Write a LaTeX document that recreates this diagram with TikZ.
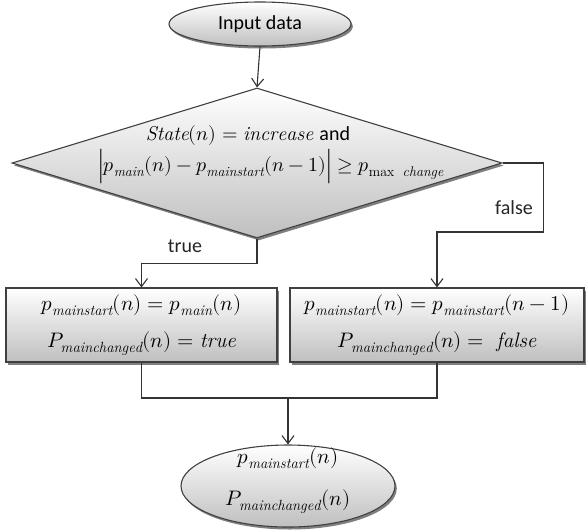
\documentclass[tikz,border=0pt]{standalone}
\usepackage{fontspec}
\usepackage{unicode-math}
\setmathfont{Latin Modern Math}
\newfontfamily\labelfont{Carlito}
\usetikzlibrary{shapes.geometric,shadows,arrows.meta}
\begin{document}
\begin{tikzpicture}[x=1pt,y=-1pt,
  line/.style={draw=black!80, line width=1.1pt},
  arr/.style={line, -{Straight Barb[length=8pt,width=12pt,line width=1.1pt]}},
  shaded/.style={draw=black!75, line width=1.1pt, top color=white, bottom color=black!25,
    drop shadow={shadow xshift=1.8pt, shadow yshift=-2.5pt, opacity=0.5, fill=black}},
  terminal/.style={shaded, ellipse, inner sep=0pt},
  decision/.style={shaded, diamond, inner sep=0pt, minimum width=490pt, minimum height=150pt},
  process/.style={shaded, rectangle, inner sep=0pt, minimum height=74pt},
  mathtext/.style={align=center, font=\fontsize{21}{37}\selectfont},
  branch/.style={font=\labelfont\fontsize{20}{24}\selectfont, text=black!85}
]
\useasboundingbox (0,0) rectangle (588,531);

% start terminal
\node[terminal, minimum width=182pt, minimum height=44pt,
      font=\labelfont\fontsize{20}{24}\selectfont] (in) at (260,24) {Input data};

% decision
\node[decision] (dec) at (257,163) {};
\node[align=center, font=\fontsize{20}{31}\selectfont] (dectext) at (271,155)
  {$\mathit{State}(n)=\mathit{increase}$ {\labelfont and}\hspace*{46pt}\\
   $\Bigl|p_{\mathit{main}}(n)-p_{\mathit{mainstart}}(n-1)\Bigr|\geq p_{\max\ \mathit{change}}$};

% two outcomes
\node[process, minimum width=271pt] (bl) at (141.5,325) {};
\node[mathtext] (bltext) at (bl.center)
  {$p_{\mathit{mainstart}}(n)=p_{\mathit{main}}(n)$\\
   $P_{\mathit{mainchanged}}(n)=\mathit{true}$};
\node[process, minimum width=294pt] (br) at (437,325) {};
\node[mathtext] (brtext) at (br.center)
  {$p_{\mathit{mainstart}}(n)=p_{\mathit{mainstart}}(n-1)$\\
   $P_{\mathit{mainchanged}}(n)=\ \mathit{false}$};

% end terminal
\node[terminal, minimum width=214pt, minimum height=82pt] (out) at (288,486) {};
\node[mathtext, font=\fontsize{21}{42}\selectfont] (outtext) at (288,481)
  {$p_{\mathit{mainstart}}(n)$\\ $P_{\mathit{mainchanged}}(n)$};

% connectors
\draw[arr] (in.south) -- (dec.north);
\draw[arr] (dec.south) -- ++(0,25) -| (bl.north);
\draw[arr] (dec.east) -- ++(41,0) -- ++(0,69) -| (br.north);
\node[branch] (tlab) at (185,246) {true};
\node[branch] (flab) at (514,208) {false};

\coordinate (join) at (288,398);
\draw[line] (bl.south) |- (join) -| (br.south);
\draw[arr] (join) -- (out.north);
\end{tikzpicture}
\end{document}
